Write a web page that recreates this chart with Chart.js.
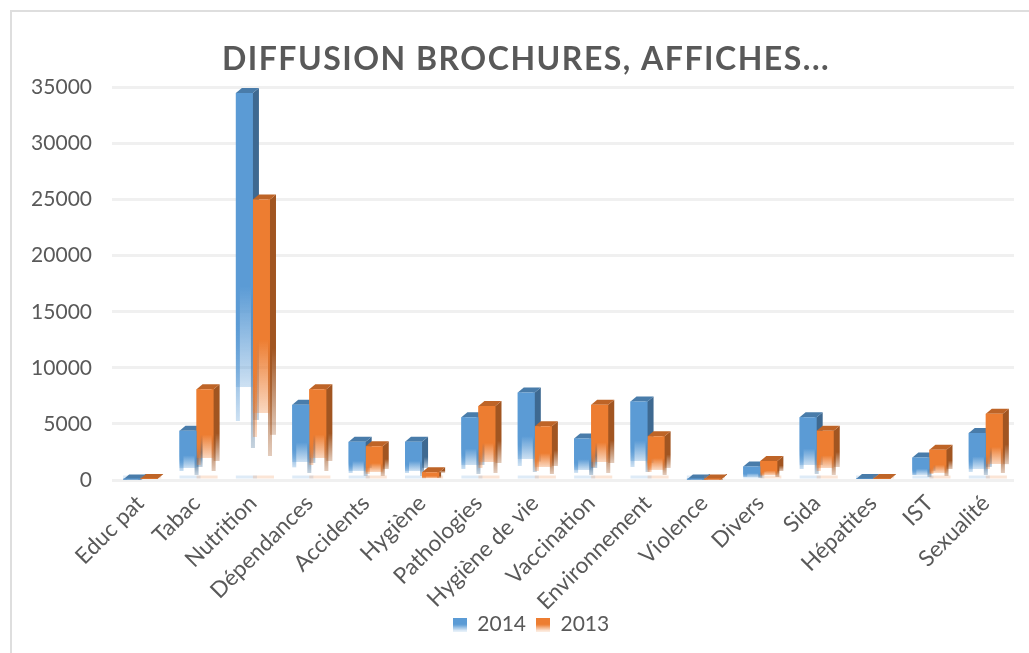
<!DOCTYPE html>
<html>
<head>
<meta charset="utf-8">
<title>Diffusion brochures</title>
<script src="https://cdn.jsdelivr.net/npm/chart.js@4"></script>
<style>
  html, body { margin: 0; padding: 0; background: #fff; overflow: hidden; }
  #wrap { position: relative; width: 1029px; height: 653px; }
  #frame { position: absolute; left: 10px; top: 10px; width: 1030px; height: 660px; border: 2px solid #dedede; }
  canvas { position: absolute; left: 0; top: 0; }
</style>
</head>
<body>
<div id="wrap">
  <div id="frame"></div>
  <canvas id="chartDiffusion" width="1029" height="653"></canvas>
</div>
<script>
const categories = ['Educ pat', 'Tabac', 'Nutrition', 'Dépendances', 'Accidents', 'Hygiène', 'Pathologies', 'Hygiène de vie', 'Vaccination', 'Environnement', 'Violence', 'Divers', 'Sida', 'Hépatites', 'IST', 'Sexualité'];
const values2014 = [50, 4400, 34500, 6700, 3400, 3400, 5600, 7800, 3700, 7000, 50, 1200, 5600, 100, 2000, 4200];
const values2013 = [100, 8100, 25000, 8100, 3000, 700, 6600, 4800, 6700, 3900, 50, 1700, 4400, 100, 2700, 5900];
const yMax = 35000;
const yStep = 5000;

const BLUE = [91, 155, 213];
const ORANGE = [237, 125, 49];
const depthX = 6;
const depthY = 5;

function rgba(c, a) { return 'rgba(' + c[0] + ',' + c[1] + ',' + c[2] + ',' + a + ')'; }
function darker(c, k) { return [c[0] * k, c[1] * k, c[2] * k]; }

// the bars melt away at the bottom, then nothing until a pale strip on the axis
function fade(ctx, top, base, c, solidUntil, endAt) {
    const g = ctx.createLinearGradient(0, top, 0, base);
    g.addColorStop(0, rgba(c, 1));
    g.addColorStop(solidUntil, rgba(c, 1));
    g.addColorStop(endAt, rgba(c, .3));
    g.addColorStop(Math.min(endAt + .001, 1), rgba(c, 0));
    g.addColorStop(1, rgba(c, 0));
    return g;
}

function frontColor(color) {
    return function (c) {
        const chart = c.chart;
        if (!chart.chartArea || c.parsed === undefined || c.parsed.y === undefined) return rgba(color, 1);
        const sc = chart.scales.y;
        return fade(chart.ctx, sc.getPixelForValue(c.parsed.y), sc.getPixelForValue(0), color, .5, .76);
    };
}

function swatch(color) {
    const cv = document.createElement('canvas');
    cv.width = 14; cv.height = 14;
    const x = cv.getContext('2d');
    const g = x.createLinearGradient(0, 0, 0, 14);
    g.addColorStop(0, rgba(color, 1));
    g.addColorStop(.5, rgba(color, 1));
    g.addColorStop(1, rgba(color, .1));
    x.fillStyle = g;
    x.fillRect(0, 0, 14, 14);
    return cv;
}

const bars3d = {
    id: 'bars3d',
    afterLayout(chart) {
        // labels are clipped to their axis box, so give them more room
        chart.scales.y.left = 20;
        chart.scales.x.bottom = chart.height;
        // legend sits a bit right of the title
        if (!chart.legend.moved) {
            chart.legend.left += 10;
            chart.legend.moved = true;
        }
        // title is spaced out in the original
        const t = chart.titleBlock;
        if (t && !t.spaced) {
            const draw = t.draw;
            t.draw = function () {
                chart.ctx.save();
                chart.ctx.letterSpacing = '1.5px';
                draw.apply(t, arguments);
                chart.ctx.restore();
            };
            t.spaced = true;
        }
    },
    beforeDatasetsDraw(chart) {
        const ctx = chart.ctx;
        [BLUE, ORANGE].forEach(function (color, i) {
            const dark = darker(color, .68);
            chart.getDatasetMeta(i).data.forEach(function (bar) {
                const x0 = bar.x - bar.width / 2, x1 = bar.x + bar.width / 2;
                const y = bar.y, b = bar.base;
                // strip on the axis
                ctx.fillStyle = rgba(color, .2);
                ctx.fillRect(x0, b - 3, bar.width + depthX - 2, 3);
                // thin runs below the fade
                ctx.fillStyle = fade(ctx, y, b, color, .6, .85);
                ctx.fillRect(x0, y, 4, b - y);
                ctx.fillStyle = fade(ctx, y, b, dark, .55, .92);
                ctx.fillRect(x1 - 2, y, 4, b - y);
                // side
                ctx.fillStyle = fade(ctx, y - depthY, b - depthY, dark, .55, .86);
                ctx.beginPath();
                ctx.moveTo(x1, y);
                ctx.lineTo(x1 + depthX, y - depthY);
                ctx.lineTo(x1 + depthX, b - depthY);
                ctx.lineTo(x1, b);
                ctx.closePath();
                ctx.fill();
                // top
                ctx.fillStyle = rgba(darker(color, .8), 1);
                ctx.beginPath();
                ctx.moveTo(x0, y);
                ctx.lineTo(x0 + depthX, y - depthY);
                ctx.lineTo(x1 + depthX, y - depthY);
                ctx.lineTo(x1, y);
                ctx.closePath();
                ctx.fill();
            });
        });
    }
};

new Chart(document.getElementById('chartDiffusion').getContext('2d'), {
    type: 'bar',
    plugins: [bars3d],
    data: {
        labels: categories,
        datasets: [
            { label: '2014', data: values2014, backgroundColor: frontColor(BLUE), pointStyle: swatch(BLUE) },
            { label: '2013', data: values2013, backgroundColor: frontColor(ORANGE), pointStyle: swatch(ORANGE) }
        ]
    },
    options: {
        responsive: false,
        animation: false,
        layout: { padding: { top: 40, right: 15, bottom: 8, left: 38 } },
        datasets: { bar: { categoryPercentage: .605, barPercentage: 1 } },
        plugins: {
            tooltip: { enabled: false },
            title: {
                display: true,
                text: 'DIFFUSION BROCHURES, AFFICHES...',
                color: '#595959',
                font: { family: 'Lato', size: 32, weight: 'bold' },
                padding: { top: 0, bottom: 9 }
            },
            legend: {
                position: 'bottom',
                labels: {
                    usePointStyle: true,
                    pointStyleWidth: 14,
                    color: '#595959',
                    font: { family: 'Lato', size: 21 },
                    padding: 10,
                    generateLabels(chart) {
                        return chart.data.datasets.map(function (d, i) {
                            return { text: d.label, pointStyle: d.pointStyle, datasetIndex: i, fontColor: '#595959' };
                        });
                    }
                }
            }
        },
        scales: {
            x: {
                grid: { display: false },
                border: { display: false },
                afterFit(s) { s.height = 124; },
                ticks: { color: '#595959', font: { family: 'Lato', size: 22.5 }, minRotation: 45, maxRotation: 45, padding: 2 }
            },
            y: {
                beginAtZero: true,
                max: yMax,
                afterFit(s) { s.width = 74; },
                grid: { color: '#f0f0f0', lineWidth: 3, drawTicks: false },
                border: { display: false },
                ticks: {
                    stepSize: yStep,
                    color: '#595959',
                    font: { family: 'Lato', size: 21 },
                    padding: 20,
                    callback(v) { return String(v); }
                }
            }
        }
    }
});
</script>
</body>
</html>
